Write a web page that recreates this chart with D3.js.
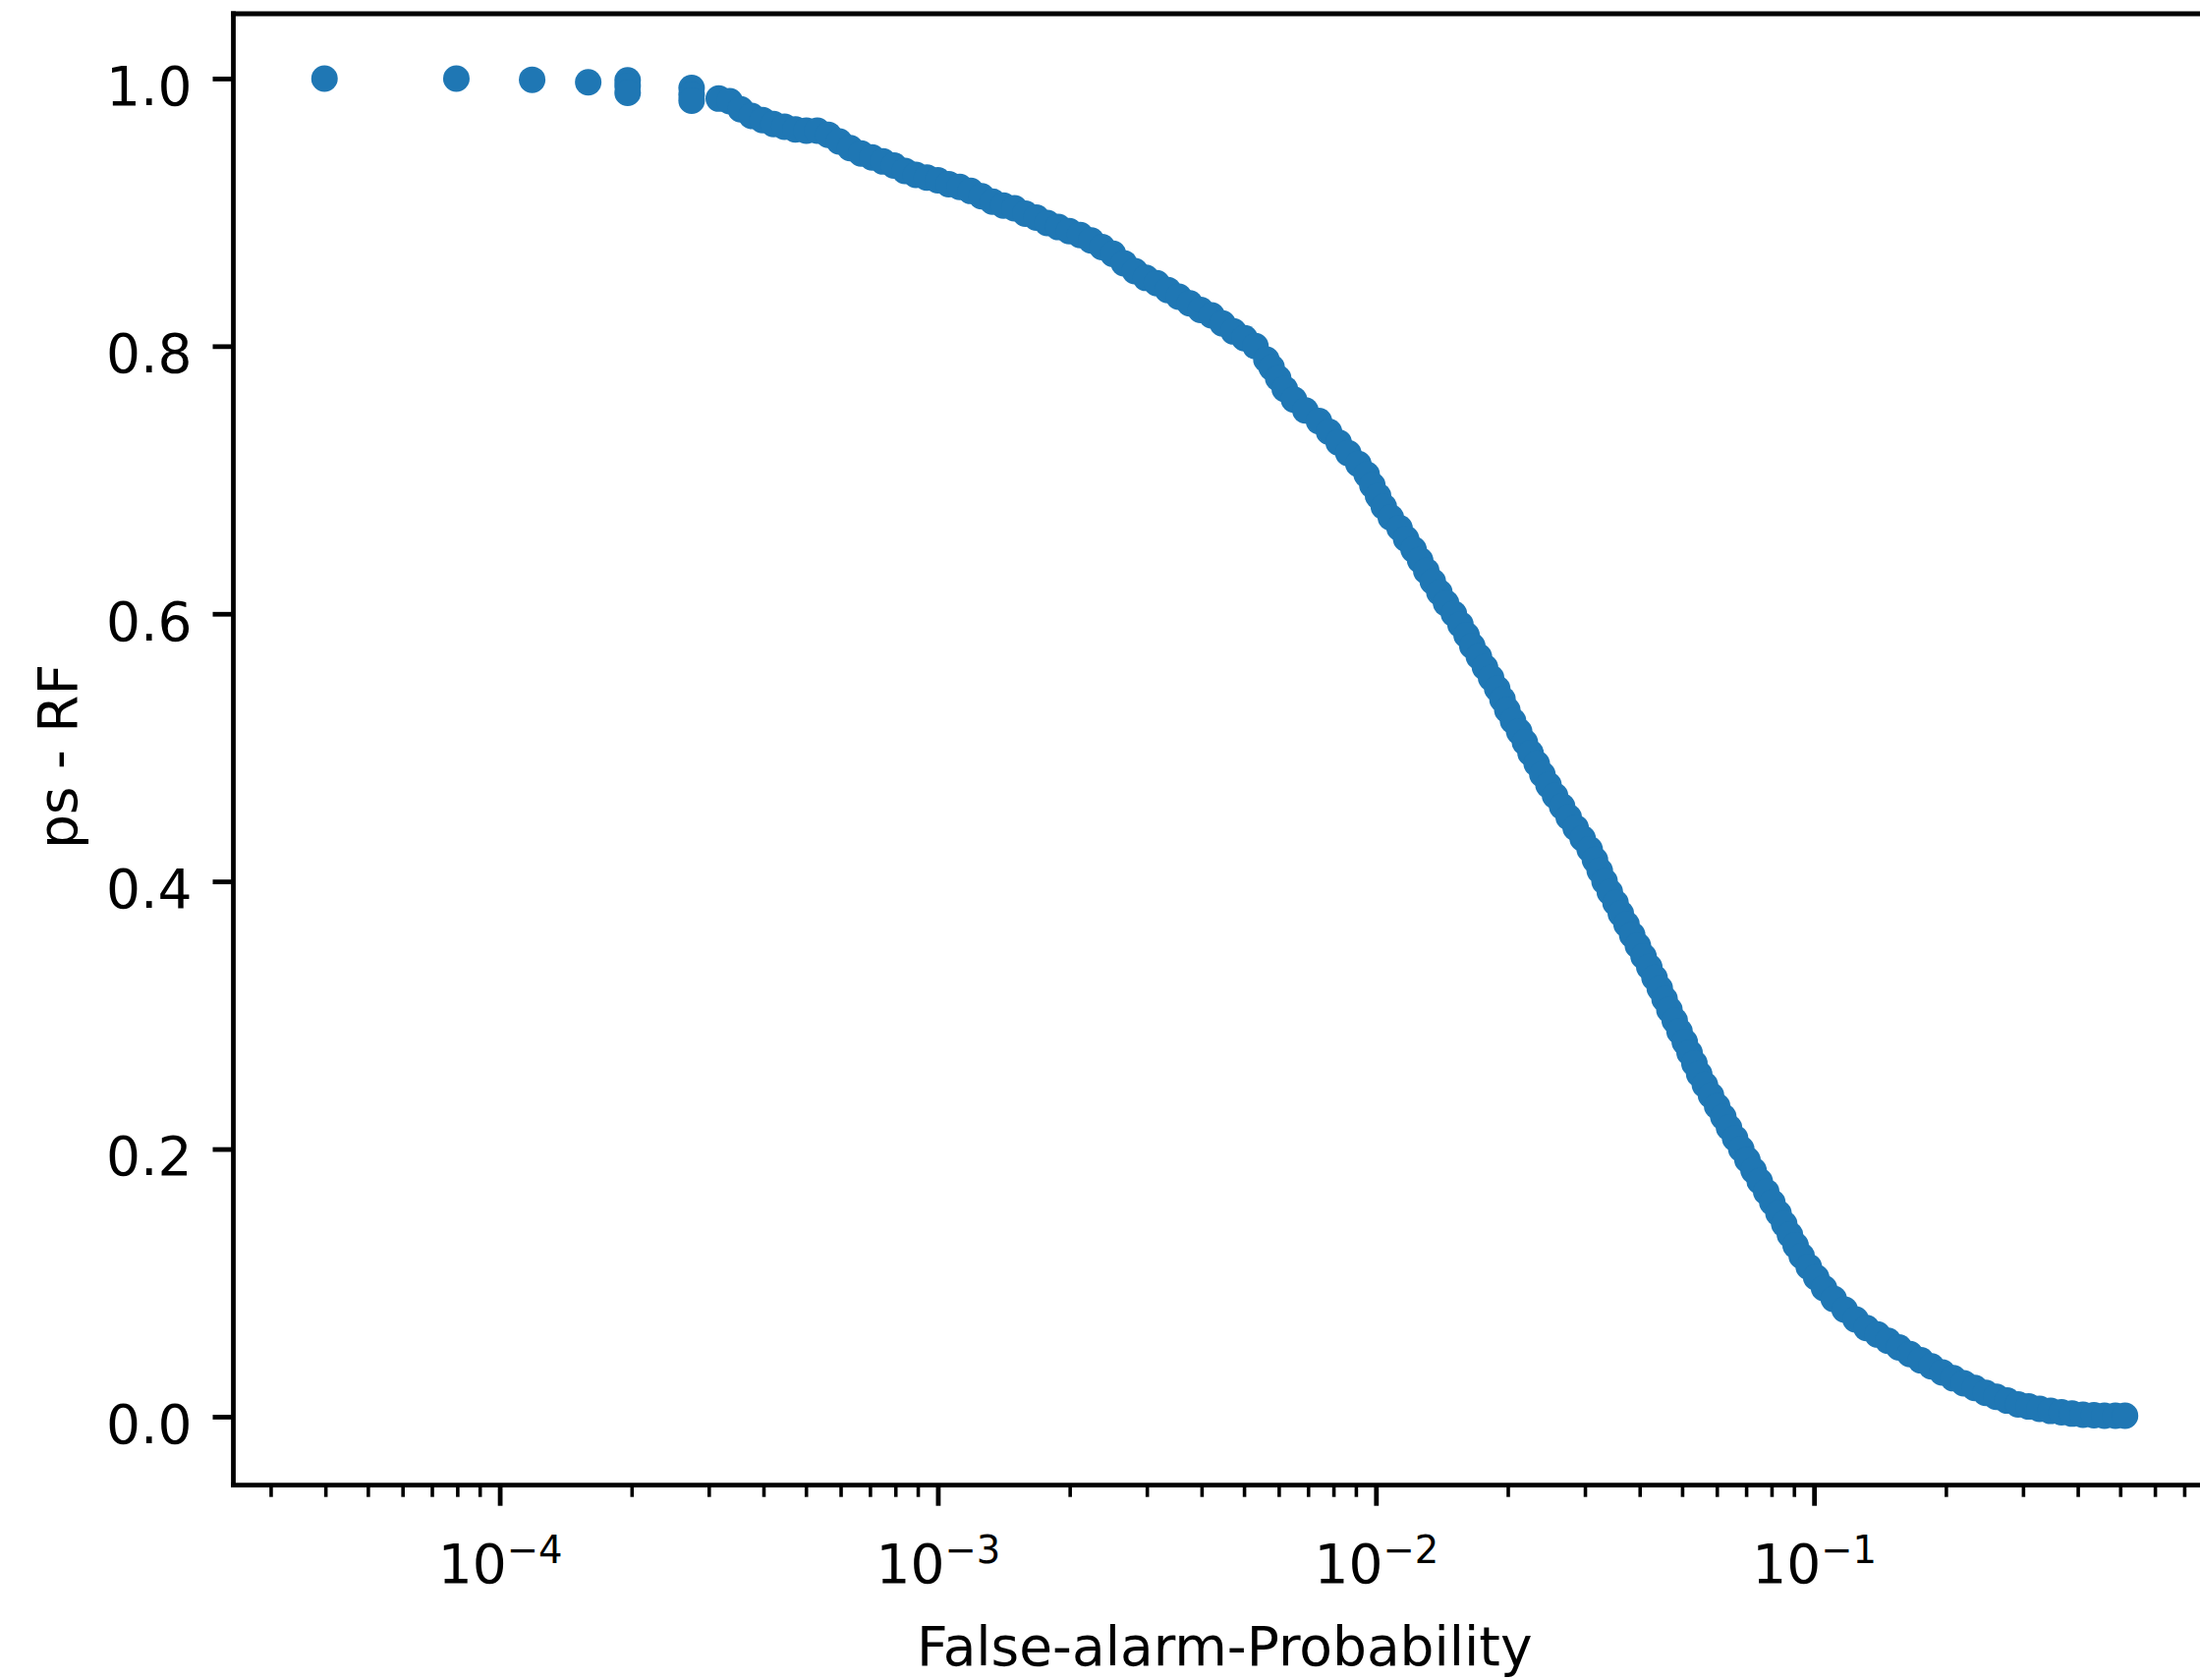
<!DOCTYPE html>
<html>
<head>
<meta charset="utf-8">
<script src="https://cdn.jsdelivr.net/npm/d3@7"></script>
<style>
  html, body { margin: 0; padding: 0; background: #fff; }
  svg text { font-family: "DejaVu Sans", sans-serif; fill: #000; }
</style>
</head>
<body>
<div id="graph"></div>
<script>
// false-alarm probability is kept as its base-10 exponent
// isolated points / small clusters at the very low end
var headExp  = [-4.400, -4.099, -3.926, -3.798, -3.708, -3.708, -3.708, -3.562, -3.562, -3.562];
var headProb = [1.000, 1.000, 0.9991, 0.9972, 0.9986, 0.9945, 0.9893, 0.9930, 0.9879, 0.9835];

// slow decline down to ~0.8
var flatExp  = [-3.500, -3.475, -3.450, -3.425, -3.400, -3.375, -3.350, -3.325, -3.300, -3.275,
                -3.250, -3.225, -3.200, -3.175, -3.150, -3.125, -3.100, -3.075, -3.050, -3.025,
                -3.000, -2.975, -2.950, -2.925, -2.900, -2.875, -2.850, -2.825, -2.800, -2.775,
                -2.750, -2.725, -2.700, -2.675, -2.650, -2.625, -2.600, -2.575, -2.550, -2.525,
                -2.500, -2.475, -2.450, -2.425, -2.400, -2.375, -2.350, -2.325, -2.300, -2.275, -2.250];
var flatProb = [0.985, 0.983, 0.977, 0.972, 0.969, 0.966, 0.964, 0.962, 0.961, 0.961,
                0.958, 0.953, 0.948, 0.944, 0.941, 0.938, 0.935, 0.931, 0.928, 0.926,
                0.924, 0.921, 0.919, 0.916, 0.912, 0.908, 0.905, 0.903, 0.899, 0.896,
                0.892, 0.889, 0.886, 0.883, 0.879, 0.874, 0.869, 0.862, 0.856, 0.851,
                0.847, 0.842, 0.837, 0.832, 0.827, 0.823, 0.817, 0.811, 0.806, 0.800, 0.790];

// steep drop
var dropExp  = [-2.238, -2.223, -2.208, -2.187, -2.161, -2.130, -2.107, -2.085, -2.063, -2.040,
                -2.021, -2.008, -1.995, -1.982, -1.966, -1.946, -1.931, -1.914, -1.899, -1.885,
                -1.870, -1.855, -1.840, -1.822, -1.807, -1.793, -1.780, -1.765, -1.751, -1.737,
                -1.723, -1.711, -1.700, -1.687, -1.673, -1.660, -1.647, -1.633, -1.620, -1.606,
                -1.591, -1.575, -1.560, -1.544, -1.528, -1.512, -1.500, -1.489, -1.478, -1.466,
                -1.453, -1.441, -1.428, -1.415, -1.402, -1.389, -1.376, -1.364, -1.352, -1.341,
                -1.330, -1.318, -1.307, -1.295, -1.284, -1.273, -1.262, -1.249, -1.235, -1.221,
                -1.207, -1.194, -1.180, -1.166, -1.152, -1.138, -1.124, -1.109, -1.095, -1.081,
                -1.068, -1.055, -1.042, -1.028, -1.012, -0.995, -0.977, -0.955, -0.930];
var dropProb = [0.784, 0.776, 0.768, 0.760, 0.752, 0.744, 0.736, 0.728, 0.720, 0.712,
                0.704, 0.696, 0.688, 0.680, 0.672, 0.664, 0.656, 0.648, 0.640, 0.632,
                0.624, 0.616, 0.608, 0.600, 0.592, 0.584, 0.576, 0.568, 0.560, 0.552,
                0.544, 0.536, 0.528, 0.520, 0.512, 0.504, 0.496, 0.488, 0.480, 0.472,
                0.464, 0.456, 0.448, 0.440, 0.432, 0.424, 0.416, 0.408, 0.400, 0.392,
                0.384, 0.376, 0.368, 0.360, 0.352, 0.344, 0.336, 0.328, 0.320, 0.312,
                0.304, 0.296, 0.288, 0.280, 0.272, 0.264, 0.256, 0.248, 0.240, 0.232,
                0.224, 0.216, 0.208, 0.200, 0.192, 0.184, 0.176, 0.168, 0.160, 0.152,
                0.144, 0.136, 0.128, 0.120, 0.112, 0.104, 0.096, 0.088, 0.080];

// tail flattening out near zero
var tailExp  = [-0.905, -0.880, -0.855, -0.831, -0.806, -0.781, -0.756, -0.732, -0.707, -0.682,
                -0.658, -0.633, -0.608, -0.584, -0.559, -0.534, -0.510, -0.485, -0.460, -0.435,
                -0.411, -0.386, -0.361, -0.337, -0.312, -0.290];
var tailProb = [0.0727, 0.0662, 0.0614, 0.0567, 0.0517, 0.0468, 0.0421, 0.0376, 0.0330, 0.0287,
                0.0250, 0.0214, 0.0178, 0.0149, 0.0120, 0.0092, 0.0076, 0.0059, 0.0043, 0.0033,
                0.0023, 0.0015, 0.0011, 0.0007, 0.0007, 0.0007];

// ticks
var xMajorExp = [-4, -3, -2, -1];
var xMinorMant = [2, 3, 4, 5, 6, 7, 8, 9];
var yTicks = [0.0, 0.2, 0.4, 0.6, 0.8, 1.0];

var xLabel = "False-alarm-Probability";
var yLabel = "ps - RF";

function init() {
    var W = 2239, H = 1710;
    var left = 237.5, right = 2255, top = 14, bottom = 1511.7;

    var svg = d3.select("#graph").append("svg")
        .attr("width", W)
        .attr("height", H);

    var xScale = d3.scaleLog()
        .domain([Math.pow(10, -4.608), Math.pow(10, -0.083)])
        .range([left, right]);

    var yScale = d3.scaleLinear()
        .domain([-0.0512, 1.0484])
        .range([bottom, top]);

    // build the point list
    var exps = headExp.concat(flatExp, dropExp, tailExp);
    var probs = headProb.concat(flatProb, dropProb, tailProb);
    var dataset = exps.map(function(e, i) {
        return {fap: Math.pow(10, e), pd: probs[i]};
    });

    // points
    svg.append("g")
        .selectAll("circle")
        .data(dataset)
        .enter().append("circle")
        .attr("cx", function(d) { return xScale(d.fap); })
        .attr("cy", function(d) { return yScale(d.pd); })
        .attr("r", 13.5)
        .attr("fill", "#1f77b4");

    // minor x ticks
    var minor = [];
    for (var k = -5; k <= 0; k++) {
        xMinorMant.forEach(function(m) {
            var v = m * Math.pow(10, k);
            if (v > xScale.domain()[0] && v < xScale.domain()[1]) minor.push(v);
        });
    }
    var gMinor = svg.append("g")
        .attr("transform", "translate(0," + bottom + ")")
        .call(d3.axisBottom(xScale).tickValues(minor).tickSize(12).tickSizeOuter(0).tickFormat(""));
    gMinor.select(".domain").remove();
    gMinor.selectAll("line").attr("stroke", "#000").attr("stroke-width", 3.6);

    // major x ticks
    var gx = svg.append("g")
        .attr("transform", "translate(0," + bottom + ")")
        .call(d3.axisBottom(xScale)
            .tickValues(xMajorExp.map(function(e) { return Math.pow(10, e); }))
            .tickSize(21).tickSizeOuter(0).tickFormat(""));
    gx.select(".domain").remove();
    gx.selectAll("line").attr("stroke", "#000").attr("stroke-width", 4.8);
    gx.selectAll(".tick text").each(function(d, i) {
        var t = d3.select(this)
            .attr("y", 99.3)
            .attr("dy", null)
            .attr("font-size", 55)
            .attr("font-family", "DejaVu Sans")
            .attr("fill", "#000")
            .attr("text-anchor", "middle");
        t.append("tspan").text("10");
        t.append("tspan")
            .attr("font-size", 38.5)
            .attr("dy", -20)
            .text("\u2212" + Math.abs(xMajorExp[i]));
    });

    // y ticks
    var gy = svg.append("g")
        .attr("transform", "translate(" + left + ",0)")
        .call(d3.axisLeft(yScale).tickValues(yTicks).tickSize(21).tickPadding(21)
            .tickSizeOuter(0).tickFormat(d3.format(".1f")));
    gy.select(".domain").remove();
    gy.selectAll("line").attr("stroke", "#000").attr("stroke-width", 4.8);
    gy.selectAll("text")
        .attr("font-size", 55)
        .attr("font-family", "DejaVu Sans")
        .attr("fill", "#000")
        .attr("dy", "0.48em");

    // spines
    var spines = svg.append("g")
        .attr("stroke", "#000")
        .attr("stroke-width", 4.8)
        .attr("stroke-linecap", "square");
    spines.append("line").attr("x1", left).attr("x2", left).attr("y1", top).attr("y2", bottom);
    spines.append("line").attr("x1", right).attr("x2", right).attr("y1", top).attr("y2", bottom);
    spines.append("line").attr("x1", left).attr("x2", right).attr("y1", top).attr("y2", top);
    spines.append("line").attr("x1", left).attr("x2", right).attr("y1", bottom).attr("y2", bottom);

    // axis labels
    svg.append("text")
        .attr("x", (left + right) / 2)
        .attr("y", 1695)
        .attr("text-anchor", "middle")
        .attr("font-size", 55)
        .text(xLabel);

    svg.append("text")
        .attr("transform", "translate(78," + 770 + ") rotate(-90)")
        .attr("text-anchor", "middle")
        .attr("font-size", 55)
        .text(yLabel);
}

window.addEventListener('DOMContentLoaded', init);
</script>
</body>
</html>
